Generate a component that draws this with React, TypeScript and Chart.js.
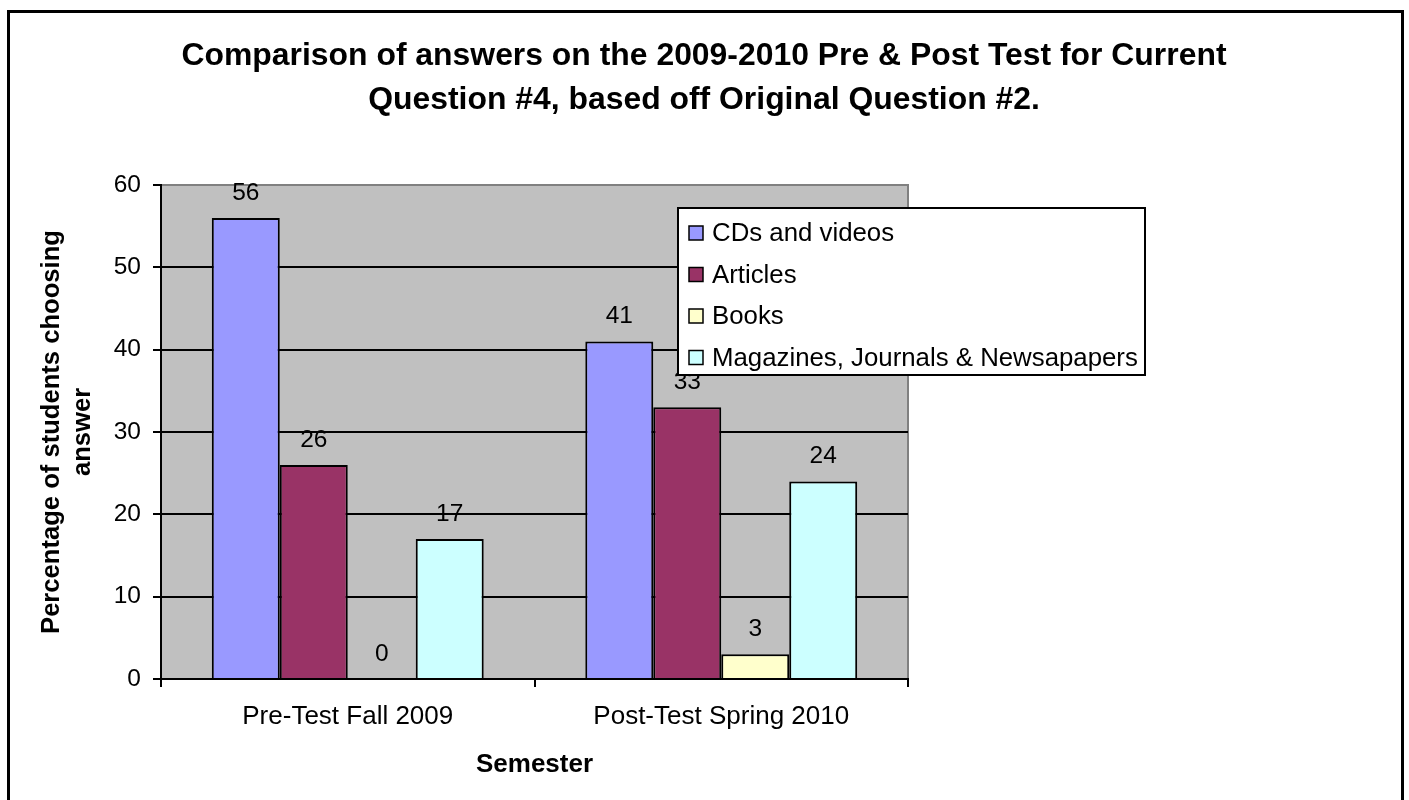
import React, { useEffect, useRef } from "react";
import { Chart, registerables } from "chart.js";

Chart.register(...registerables);

const categories = ["Pre-Test Fall 2009", "Post-Test Spring 2010"];
const seriesNames = ["CDs and videos", "Articles", "Books", "Magazines, Journals & Newsapapers"];
const cdsValues = [56, 41];
const articlesValues = [26, 33];
const booksValues = [0, 3];
const magazinesValues = [17, 24];
const seriesColors = ["#9999FF", "#993366", "#FFFFCC", "#CCFFFF"];
const titleLines = [
  "Comparison of answers on the 2009-2010 Pre & Post Test for Current",
  "Question #4, based off Original Question #2.",
];
const yTitleLines = ["Percentage of students choosing", "answer"];
const xTitle = "Semester";

const FONT = '"Liberation Sans", Arial, sans-serif';

const decorPlugin = {
  id: "decor",
  beforeDraw(chart: any) {
    const { ctx, chartArea } = chart;
    ctx.save();
    ctx.fillStyle = "#FFFFFF";
    ctx.fillRect(0, 0, chart.width, chart.height);
    ctx.fillStyle = "#C0C0C0";
    ctx.fillRect(chartArea.left, chartArea.top, chartArea.right - chartArea.left, chartArea.bottom - chartArea.top);
    ctx.strokeStyle = "#808080";
    ctx.lineWidth = 2;
    ctx.beginPath();
    ctx.moveTo(chartArea.left, chartArea.top);
    ctx.lineTo(chartArea.right, chartArea.top);
    ctx.lineTo(chartArea.right, chartArea.bottom);
    ctx.stroke();
    ctx.restore();
  },
  afterDraw(chart: any) {
    const { ctx, chartArea } = chart;
    ctx.save();
    // data labels
    ctx.fillStyle = "#000";
    ctx.font = `24.5px ${FONT}`;
    ctx.textAlign = "center";
    ctx.textBaseline = "alphabetic";
    chart.data.datasets.forEach((ds: any, di: number) => {
      const meta = chart.getDatasetMeta(di);
      meta.data.forEach((bar: any, i: number) => {
        ctx.fillText(String(ds.data[i]), bar.x, bar.y - 18);
      });
    });
    // legend
    const lx = 678, ly = 208, lw = 467, lh = 167;
    ctx.fillStyle = "#FFFFFF";
    ctx.fillRect(lx, ly, lw, lh);
    ctx.strokeStyle = "#000";
    ctx.lineWidth = 2;
    ctx.strokeRect(lx, ly, lw, lh);
    ctx.font = `25.8px ${FONT}`;
    ctx.textAlign = "left";
    ctx.textBaseline = "middle";
    seriesNames.forEach((name, i) => {
      const cy = 233 + i * 41.5;
      ctx.fillStyle = seriesColors[i];
      ctx.fillRect(689, cy - 7, 14, 14);
      ctx.lineWidth = 1.5;
      ctx.strokeStyle = "#000";
      ctx.strokeRect(689, cy - 7, 14, 14);
      ctx.fillStyle = "#000";
      ctx.fillText(name, 712, cy + 1);
    });
    // title
    ctx.font = `bold 31.9px ${FONT}`;
    ctx.textAlign = "center";
    ctx.fillText(titleLines[0], 704, 56);
    ctx.fillText(titleLines[1], 704, 100);
    // axis titles
    ctx.font = `bold 26px ${FONT}`;
    ctx.fillText(xTitle, (chartArea.left + chartArea.right) / 2, 765);
    ctx.font = `bold 25.6px ${FONT}`;
    const cyAxis = (chartArea.top + chartArea.bottom) / 2;
    ctx.save();
    ctx.translate(52, cyAxis);
    ctx.rotate(-Math.PI / 2);
    ctx.fillText(yTitleLines[0], 0, 0);
    ctx.restore();
    ctx.save();
    ctx.translate(83, cyAxis);
    ctx.rotate(-Math.PI / 2);
    ctx.fillText(yTitleLines[1], 0, 0);
    ctx.restore();
    // outer border
    ctx.strokeStyle = "#000";
    ctx.lineWidth = 3;
    ctx.strokeRect(8.5, 11.5, 1394, 800);
    ctx.restore();
  },
};

export default function App() {
  const ref = useRef<HTMLCanvasElement | null>(null);
  useEffect(() => {
    if (!ref.current) return;
    const valuesList = [cdsValues, articlesValues, booksValues, magazinesValues];
    const chart = new Chart(ref.current, {
      type: "bar",
      data: {
        labels: categories,
        datasets: seriesNames.map((name, i) => ({
          label: name,
          data: valuesList[i],
          backgroundColor: seriesColors[i],
          borderColor: "#000",
          borderWidth: 2,
          barPercentage: 1,
          categoryPercentage: 0.728,
        })),
      },
      options: {
        animation: false,
        responsive: false,
        devicePixelRatio: 1,
        layout: { padding: { left: 101, top: 185, right: 501, bottom: 61 } },
        plugins: { legend: { display: false }, title: { display: false }, tooltip: { enabled: false } },
        scales: {
          x: {
            afterFit: (s: any) => { s.height = 60; },
            grid: { display: true, drawOnChartArea: false, offset: true, tickLength: 8, color: "#000", tickColor: "#000", lineWidth: 2 },
            border: { display: true, color: "#000", width: 2 },
            ticks: { color: "#000", font: { family: FONT, size: 26 }, padding: 14 },
          },
          y: {
            min: 0,
            max: 60,
            afterFit: (s: any) => { s.width = 60; },
            ticks: { stepSize: 10, color: "#000", font: { family: FONT, size: 24.5 }, padding: 12 },
            grid: {
              color: (c: any) => (c.tick && c.tick.value === 60 ? "#808080" : "#000"),
              tickColor: "#000",
              lineWidth: 2,
              tickLength: 8,
            },
            border: { display: true, color: "#000", width: 2 },
          },
        },
      },
      plugins: [decorPlugin],
    });
    return () => chart.destroy();
  }, []);
  return (
    <div style={{ position: "fixed", left: 0, top: 0, width: 1409, height: 800, background: "#fff" }}>
      <canvas ref={ref} width={1409} height={800} style={{ width: 1409, height: 800, display: "block" }} />
    </div>
  );
}
